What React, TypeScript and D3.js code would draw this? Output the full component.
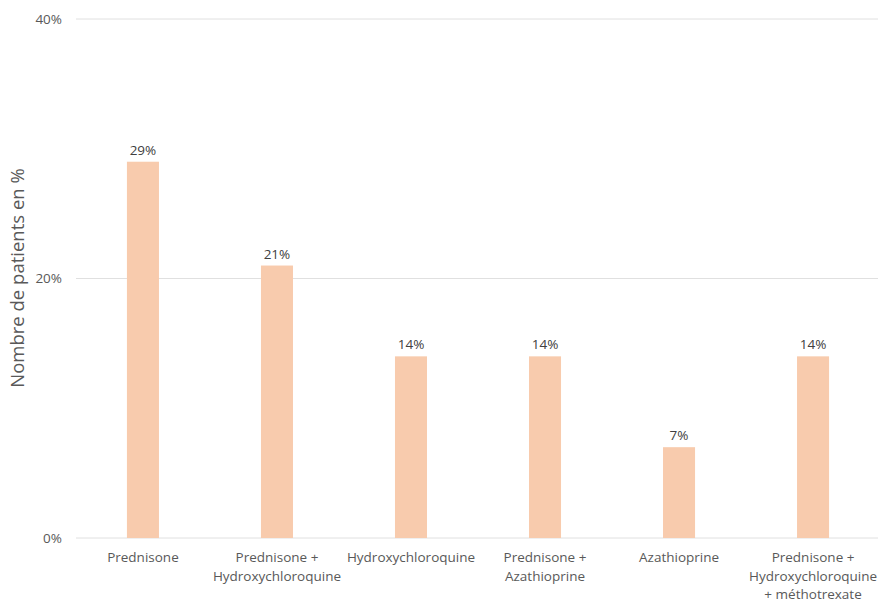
import React from "react";
import * as d3 from "d3";

const categories: string[][] = [
  ["Prednisone"],
  ["Prednisone +", "Hydroxychloroquine"],
  ["Hydroxychloroquine"],
  ["Prednisone +", "Azathioprine"],
  ["Azathioprine"],
  ["Prednisone +", "Hydroxychloroquine", "+ méthotrexate"],
];
const values: number[] = [29, 21, 14, 14, 7, 14];
const yTicks: number[] = [0, 20, 40];
const yTitle = "Nombre de patients en %";

const W = 878;
const H = 603;
const M = { left: 76, right: 878, top: 19, bottom: 538 };
const FONT = "'Open Sans', 'Noto Sans', sans-serif";

export default function App() {
  const x = d3
    .scaleBand<number>()
    .domain(values.map((_, i) => i))
    .range([M.left, M.right + 2])
    .paddingInner(0.761)
    .paddingOuter(0.38);
  const y = d3.scaleLinear().domain([0, 40]).range([M.bottom, M.top]);
  return (
    <svg
      width={W}
      height={H}
      style={{ position: "absolute", left: 0, top: 0, background: "#fff" }}
      fontFamily={FONT}
    >
      {yTicks.map((t) => (
        <g key={t}>
          <line x1={M.left} x2={M.right} y1={y(t)} y2={y(t)} stroke="#e0e0e0" strokeWidth={1} />
          <text x={62} y={y(t)} dy="0.35em" textAnchor="end" fontSize={13.5} fill="#595959">
            {t}%
          </text>
        </g>
      ))}
      {values.map((v, i) => {
        const bx = x(i)!;
        const cx = bx + x.bandwidth() / 2;
        return (
          <g key={i}>
            <rect x={bx} y={y(v)} width={x.bandwidth()} height={y(0) - y(v)} fill="#F8CBAD" />
            <text x={cx} y={y(v) - 7} textAnchor="middle" fontSize={13.5} fill="#404040">
              {v}%
            </text>
            {categories[i].map((line, j) => (
              <text
                key={j}
                x={cx}
                y={562 + j * 18.5}
                textAnchor="middle"
                fontSize={13.5}
                fill="#595959"
              >
                {line}
              </text>
            ))}
          </g>
        );
      })}
      <text
        transform={`translate(24, 278) rotate(-90)`}
        textAnchor="middle"
        fontSize={18.5}
        fill="#595959"
      >
        {yTitle}
      </text>
    </svg>
  );
}
